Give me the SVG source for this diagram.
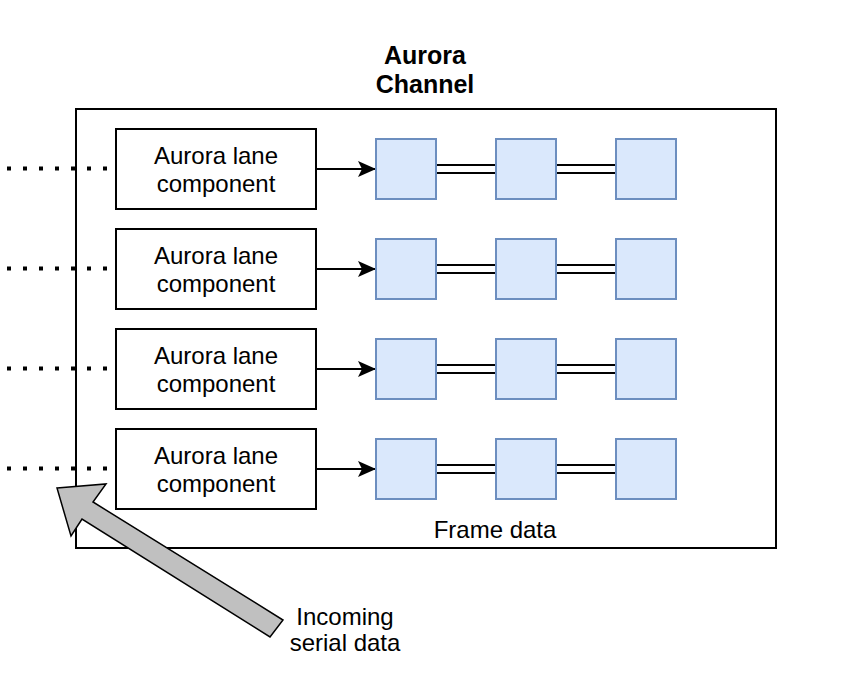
<svg xmlns="http://www.w3.org/2000/svg" width="857" height="696" viewBox="0 0 857 696">
<defs>
<style>
.t{font-family:"Liberation Sans",Arial,sans-serif;font-size:24px;fill:#000;text-anchor:middle}
.tb{font-family:"Liberation Sans",Arial,sans-serif;font-size:25px;font-weight:bold;fill:#000;text-anchor:middle}
.lane{fill:#fff;stroke:#000;stroke-width:2}
.sq{fill:#dae8fc;stroke:#6c8ebf;stroke-width:2}
.dot{stroke:#000;stroke-width:4;stroke-dasharray:4 12;fill:none}
.ln{stroke:#000;stroke-width:2;fill:none}
</style>
<marker id="ah" markerWidth="18" markerHeight="16" refX="17" refY="8" orient="auto" markerUnits="userSpaceOnUse">
<path d="M0,0 L18,8 L0,16 L4,8 Z" fill="#000"/>
</marker>
</defs>
<rect width="857" height="696" fill="#fff"/>
<g id="channel">
<rect x="76" y="109" width="700" height="439" fill="none" stroke="#000" stroke-width="2"/>
<text class="tb" x="425" y="64">Aurora</text>
<text class="tb" x="425" y="93">Channel</text>
<text class="t" x="495" y="538">Frame data</text>
</g>
<g id="connectors">
<line class="dot" x1="7" y1="168.5" x2="108" y2="168.5"/>
<line class="dot" x1="7" y1="268.5" x2="108" y2="268.5"/>
<line class="dot" x1="7" y1="368.5" x2="108" y2="368.5"/>
<line class="dot" x1="7" y1="468.5" x2="108" y2="468.5"/>
<line class="ln" x1="316" y1="169" x2="375" y2="169" marker-end="url(#ah)"/>
<line class="ln" x1="316" y1="269" x2="375" y2="269" marker-end="url(#ah)"/>
<line class="ln" x1="316" y1="369" x2="375" y2="369" marker-end="url(#ah)"/>
<line class="ln" x1="316" y1="469" x2="375" y2="469" marker-end="url(#ah)"/>
<g class="ln">
<path d="M436,165H496M436,173H496M556,165H616M556,173H616"/>
<path d="M436,265H496M436,273H496M556,265H616M556,273H616"/>
<path d="M436,365H496M436,373H496M556,365H616M556,373H616"/>
<path d="M436,465H496M436,473H496M556,465H616M556,473H616"/>
</g>
</g>
<g id="lane1"><rect class="lane" x="116" y="129" width="200" height="80"/><text class="t" x="216" y="164">Aurora lane</text><text class="t" x="216" y="192">component</text></g>
<g id="lane2"><rect class="lane" x="116" y="229" width="200" height="80"/><text class="t" x="216" y="264">Aurora lane</text><text class="t" x="216" y="292">component</text></g>
<g id="lane3"><rect class="lane" x="116" y="329" width="200" height="80"/><text class="t" x="216" y="364">Aurora lane</text><text class="t" x="216" y="392">component</text></g>
<g id="lane4"><rect class="lane" x="116" y="429" width="200" height="80"/><text class="t" x="216" y="464">Aurora lane</text><text class="t" x="216" y="492">component</text></g>
<g id="frames">
<rect class="sq" x="376" y="139" width="60" height="60"/><rect class="sq" x="496" y="139" width="60" height="60"/><rect class="sq" x="616" y="139" width="60" height="60"/>
<rect class="sq" x="376" y="239" width="60" height="60"/><rect class="sq" x="496" y="239" width="60" height="60"/><rect class="sq" x="616" y="239" width="60" height="60"/>
<rect class="sq" x="376" y="339" width="60" height="60"/><rect class="sq" x="496" y="339" width="60" height="60"/><rect class="sq" x="616" y="339" width="60" height="60"/>
<rect class="sq" x="376" y="439" width="60" height="60"/><rect class="sq" x="496" y="439" width="60" height="60"/><rect class="sq" x="616" y="439" width="60" height="60"/>
</g>
<g id="incoming">
<path d="M57,488 L106,484 L93,502 L283,620 L270,637 L82,519 L71,536 Z" fill="#c0c0c0" stroke="#000" stroke-width="1.5" stroke-linejoin="miter"/>
<text class="t" x="345" y="625">Incoming</text>
<text class="t" x="345" y="651">serial data</text>
</g>
</svg>
